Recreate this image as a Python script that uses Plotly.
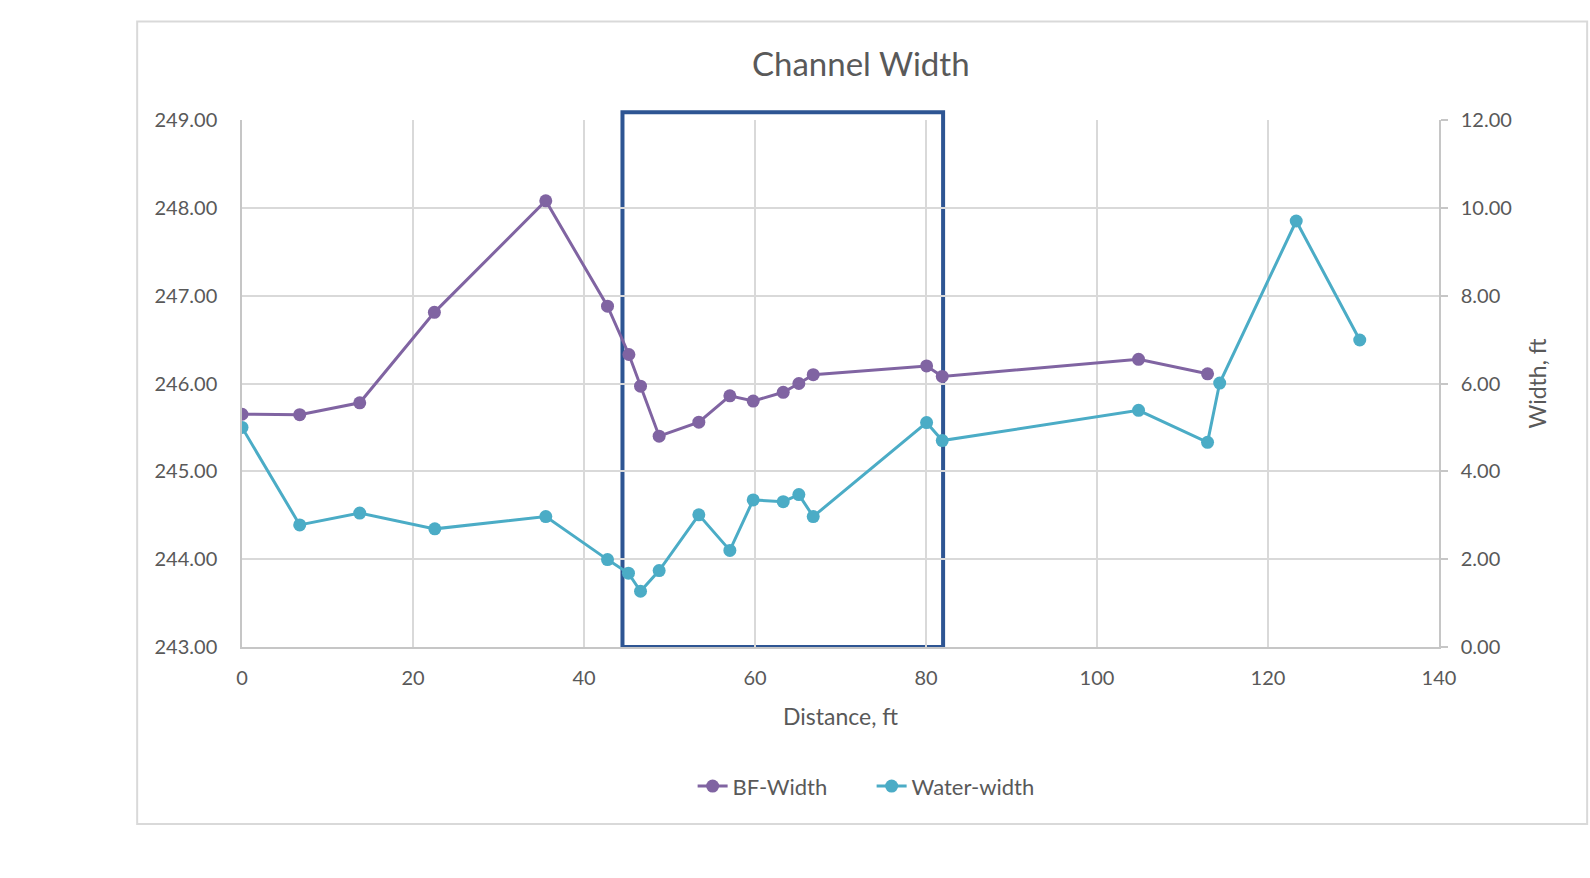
import plotly.graph_objects as go

# Data
distance_bf = [0, 6.75, 13.77, 22.5, 35.53, 42.75, 45.25, 46.61, 48.79, 53.43,
               57.06, 59.79, 63.3, 65.13, 66.81, 80.07, 81.9, 104.86, 112.93]
bf_width = [245.65, 245.645, 245.78, 246.81, 248.08, 246.88, 246.33, 245.97, 245.40, 245.56,
            245.86, 245.80, 245.90, 246.00, 246.10, 246.20, 246.08, 246.275, 246.11]

distance_water = [0, 6.75, 13.77, 22.55, 35.53, 42.75, 45.2, 46.61, 48.79, 53.43,
                  57.06, 59.79, 63.3, 65.13, 66.81, 80.07, 81.9, 104.86, 112.93,
                  114.35, 123.3, 130.73]
water_width = [5.0, 2.78, 3.05, 2.69, 2.97, 1.99, 1.68, 1.27, 1.74, 3.01,
               2.20, 3.35, 3.31, 3.47, 2.97, 5.11, 4.70, 5.39, 4.66,
               6.01, 9.70, 6.99]

highlight_x = [44.5, 82.0]
highlight_y = [243.0, 249.088]

x_range = [0, 140]
left_range = [243, 249]
right_range = [0, 12]
x_ticks = [0, 20, 40, 60, 80, 100, 120, 140]
left_ticks = [243, 244, 245, 246, 247, 248, 249]
right_ticks = [0, 2, 4, 6, 8, 10, 12]

PURPLE = "#8064A2"
TEAL = "#4BACC6"
TXT = "#595959"
GRID = "#D9D9D9"
AXIS = "#C6C6C6"
FONT = "Lato"

fig = go.Figure()
fig.add_trace(go.Scatter(
    x=distance_bf, y=bf_width, name="BF-Width", mode="lines+markers",
    line=dict(color=PURPLE, width=3), marker=dict(color=PURPLE, size=13),
    yaxis="y"))
fig.add_trace(go.Scatter(
    x=distance_water, y=water_width, name="Water-width", mode="lines+markers",
    line=dict(color=TEAL, width=3), marker=dict(color=TEAL, size=13),
    yaxis="y2"))

# highlight rectangle (converted to paper coordinates so it is not clipped)
def xp(v):
    return (v - x_range[0]) / (x_range[1] - x_range[0])
def yp(v):
    return (v - left_range[0]) / (left_range[1] - left_range[0])
fig.add_shape(type="rect", xref="paper", yref="paper",
              x0=xp(highlight_x[0]), x1=xp(highlight_x[1]),
              y0=yp(highlight_y[0]), y1=yp(highlight_y[1]),
              line=dict(color="#2E5593", width=4), fillcolor="rgba(0,0,0,0)",
              layer="between")

# chart border
L, R, T, B = 242.3, 1438.9, 120.0, 647.3
W, H = R - L, B - T
def px(x):
    return (x - L) / W
def py(y):
    return (B - y) / H
fig.add_shape(type="rect", xref="paper", yref="paper",
              x0=px(137.5), x1=px(1587), y0=py(824.3), y1=py(21.5),
              line=dict(color=GRID, width=2), fillcolor="rgba(0,0,0,0)", layer="below")

fig.update_layout(
    width=1590, height=878, autosize=False,
    margin=dict(l=L, r=1590 - R, t=T, b=878 - B, pad=0),
    paper_bgcolor="white", plot_bgcolor="white",
    font=dict(family=FONT, color=TXT, size=20),
    title=dict(text="Channel Width", x=860.8 / 1590, y=1 - 64.5 / 878,
               xref="container", yref="container",
               xanchor="center", yanchor="middle",
               font=dict(family=FONT, size=33, color=TXT)),
    xaxis=dict(range=x_range, tickvals=x_ticks, showgrid=True, gridcolor=GRID, gridwidth=1.5,
               showline=True, linecolor=AXIS, linewidth=1.5, zeroline=False,
               ticks="", tickfont=dict(size=20, color=TXT), ticklabelstandoff=12,
               title=dict(text="Distance, ft", font=dict(size=23, color=TXT), standoff=21)),
    yaxis=dict(range=left_range, tickvals=left_ticks, tickformat=".2f",
               showgrid=True, gridcolor=GRID, gridwidth=1.5,
               showline=True, linecolor=AXIS, linewidth=1.5, zeroline=False,
               ticks="", tickfont=dict(size=20, color=TXT), ticklabelstandoff=19),
    yaxis2=dict(range=right_range, tickvals=right_ticks, tickformat=".2f",
                overlaying="y", side="right", showgrid=False,
                showline=True, linecolor=AXIS, linewidth=1.5, zeroline=False,
                ticks="outside", ticklen=7, tickcolor=AXIS, tickwidth=1.5,
                tickfont=dict(size=20, color=TXT), ticklabelstandoff=9,
                title=dict(text="Width, ft", font=dict(size=23, color=TXT), standoff=19)),
    legend=dict(orientation="h", x=0.526, xanchor="center", y=py(786.7), yanchor="middle",
                font=dict(size=22, color=TXT), bgcolor="rgba(0,0,0,0)",
                entrywidth=134, entrywidthmode="pixels"),
    showlegend=True,
)

fig.write_html("out.html")
